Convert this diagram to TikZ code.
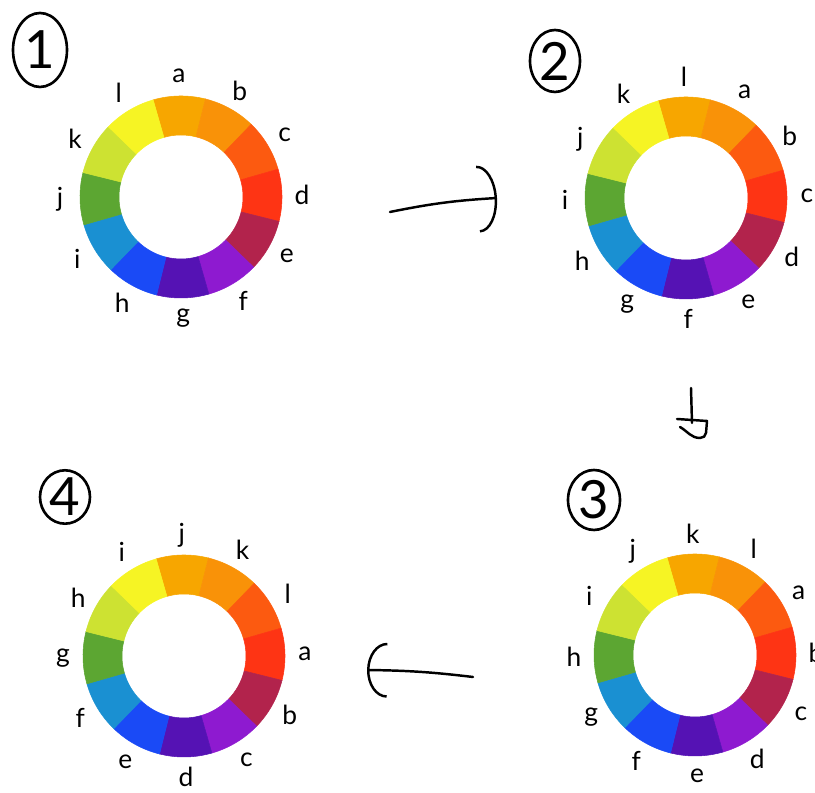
\documentclass[tikz,border=0pt]{standalone}
\usepackage{fontspec}
\setmainfont{Lato}
\usepackage{tikz}
\usetikzlibrary{arrows.meta,calc,shapes.geometric}

\definecolor{wAmber}{HTML}{F7A600}
\definecolor{wOrange}{HTML}{F99208}
\definecolor{wRedOrange}{HTML}{FC5A10}
\definecolor{wRed}{HTML}{FE3414}
\definecolor{wCrimson}{HTML}{B2234C}
\definecolor{wPurple}{HTML}{8E1AD0}
\definecolor{wIndigo}{HTML}{5512B4}
\definecolor{wBlue}{HTML}{1A4AF6}
\definecolor{wCyan}{HTML}{1A90D2}
\definecolor{wGreen}{HTML}{5CA632}
\definecolor{wLime}{HTML}{CDE232}
\definecolor{wYellow}{HTML}{F6F424}

% #1 centre, #2 name prefix, #3 labels clockwise from the top
\newcommand{\huering}[3]{%
  \foreach \col [count=\k from 0] in {wAmber,wOrange,wRedOrange,wRed,wCrimson,wPurple,wIndigo,wBlue,wCyan,wGreen,wLime,wYellow}
    \filldraw[fill=\col, draw=\col, line width=0.3pt, shift={(#1)}]
      (106-30*\k:62) -- (106-30*\k:101) arc[start angle=106-30*\k, delta angle=-30, radius=101]
      -- (76-30*\k:62) arc[start angle=76-30*\k, delta angle=30, radius=62] -- cycle;
  \foreach \lab [count=\k from 0] in {#3}
    \node[lbl] (#2-\k) at ($(#1)+(91-30*\k:121)$) {\lab};
}

\begin{document}
\begin{tikzpicture}[
  x=0.02cm, y=0.02cm,
  lbl/.style={inner sep=0pt, font=\fontsize{15}{17}\selectfont},
  num/.style={draw, ellipse, line width=1.5pt, inner sep=0pt,
    font=\fontsize{30}{32}\selectfont},
  stroke/.style={line width=1.4pt, line cap=round, line join=round}
]
\useasboundingbox (0,0) rectangle (815,793);

\coordinate (w1) at (181,596);
\coordinate (w2) at (686,595);
\coordinate (w3) at (695,138);
\coordinate (w4) at (184,137);

\huering{w1}{l1}{a,b,c,d,e,f,g,h,i,j,k,l}
\huering{w2}{l2}{l,a,b,c,d,e,f,g,h,i,j,k}
\huering{w3}{l3}{k,l,a,b,c,d,e,f,g,h,i,j}
\huering{w4}{l4}{j,k,l,a,b,c,d,e,f,g,h,i}

\node[num, minimum width=1.08cm, minimum height=1.48cm] (n1) at (40,743) {1};
\node[num, minimum width=1.0cm, minimum height=1.24cm] (n2) at (555,732) {2};
\node[num, minimum width=1.04cm, minimum height=1.2cm] (n3) at (594,293) {3};
\node[num, minimum width=1.0cm, minimum height=1.06cm] (n4) at (65,296) {4};

% arrows between the steps
\coordinate (r1) at (390,581);
\coordinate (r2) at (497,595);
\draw[stroke, -{Arc Barb[length=0.38cm, width=1.34cm]}] (r1) to[bend left=4] (r2);

\coordinate (d1) at (691,405);
\coordinate (d2) at (692,370);
\draw[stroke] (d1) -- (d2);
\draw[stroke] (677,374) -- (707,372) -- (706,360) to[out=-90,in=0] (700,355)
  to[out=180,in=-30] (680,366);

\coordinate (f1) at (473,116);
\coordinate (f2) at (367,123);
\draw[stroke, -{Arc Barb[length=0.4cm, width=1.1cm]}] (f1) to[bend right=3] (f2);
\end{tikzpicture}
\end{document}
